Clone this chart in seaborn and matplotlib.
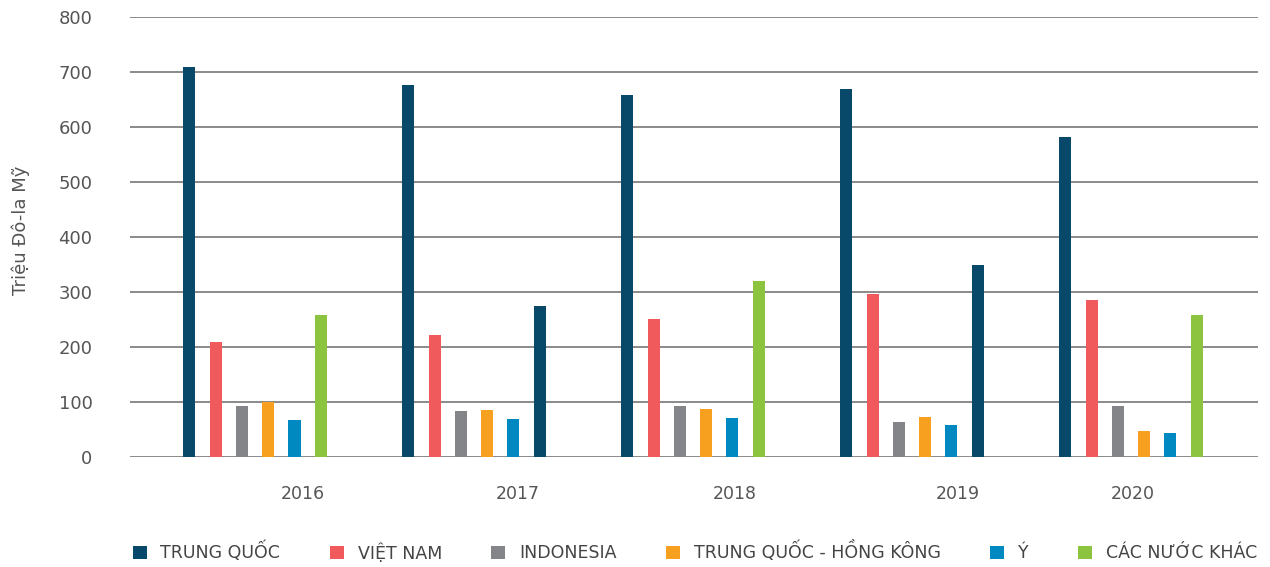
import matplotlib
matplotlib.use("Agg")
import matplotlib.pyplot as plt
from matplotlib.patches import Patch
import seaborn as sns
import pandas as pd

years = ["2016", "2017", "2018", "2019", "2020"]
countries = ["TRUNG QUỐC", "VIỆT NAM", "INDONESIA", "TRUNG QUỐC - HỒNG KÔNG", "Ý", "CÁC NƯỚC KHÁC"]
trung_quoc = [709, 676, 658, 669, 582]
viet_nam = [209, 222, 251, 296, 285]
indonesia = [93, 84, 93, 64, 93]
tq_hong_kong = [100, 86, 87, 73, 47]
y_italy = [67, 69, 71, 58, 44]
cac_nuoc_khac = [258, 275, 320, 349, 258]
tick_pos = [0.22, 1.20, 2.19, 3.21, 4.01]
y_ticks = [0, 100, 200, 300, 400, 500, 600, 700, 800]

colors = ["#08496a", "#f05a5d", "#848589", "#f79f1f", "#0089c0", "#8cc43f"]
# bars that appear in navy in the reference
override = {("2017", "CÁC NƯỚC KHÁC"): "#08496a", ("2019", "CÁC NƯỚC KHÁC"): "#08496a"}

series = [trung_quoc, viet_nam, indonesia, tq_hong_kong, y_italy, cac_nuoc_khac]
rows = []
for c, vals in zip(countries, series):
    for yr, v in zip(years, vals):
        rows.append({"year": yr, "country": c, "value": v})
df = pd.DataFrame(rows)

sns.set_style("white")
plt.rcParams["font.family"] = ["DejaVu Sans"]

fig = plt.figure(figsize=(12.7, 5.67), dpi=100)
ax = fig.add_axes([130 / 1270, (567 - 457) / 567, 1128 / 1270, 440 / 567])

sns.barplot(data=df, x="year", y="value", hue="country", order=years,
            hue_order=countries, palette=colors, width=0.72, gap=0.54,
            legend=False, ax=ax, saturation=1, linewidth=0, errorbar=None)

for ci, cont in enumerate(ax.containers):
    for xi, bar in enumerate(cont):
        key = (years[xi], countries[ci])
        if key in override:
            bar.set_facecolor(override[key])

ax.set_xlim(-0.571, 4.58)
ax.set_ylim(0, 800)
ax.set_yticks(y_ticks)
ax.set_yticklabels([str(t) for t in y_ticks])
ax.set_xticks(tick_pos)
ax.set_xticklabels(years)
ax.yaxis.grid(True, color="#8a8a8a", linewidth=1.4)
ax.set_axisbelow(True)
for s in ax.spines.values():
    s.set_visible(False)
ax.tick_params(axis="y", length=0, pad=27, labelsize=13, labelcolor="#555555")
ax.tick_params(axis="x", length=0, pad=20, labelsize=12.5, labelcolor="#555555")
ax.set_xlabel("")
ax.set_ylabel("Triệu Đô-la Mỹ", fontsize=13, color="#555555")
ax.yaxis.set_label_coords(-0.089, 0.516)

handles = [Patch(facecolor=c, edgecolor="none") for c in colors]
fig.legend(handles, countries, loc="center", bbox_to_anchor=(695 / 1270, 1 - 552 / 567),
           ncol=6, frameon=False, fontsize=12.5, handlelength=0.8, handleheight=0.8,
           handletextpad=0.8, columnspacing=2.85, labelcolor="#444444")

fig.savefig("out.png", dpi=100)
